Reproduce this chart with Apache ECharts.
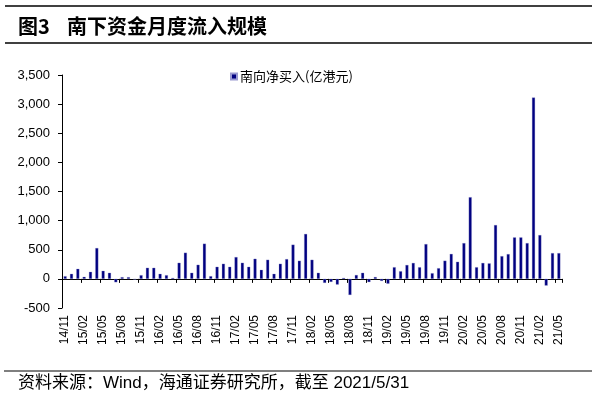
<!DOCTYPE html>
<html>
<head>
<meta charset="utf-8">
<script src="https://cdn.jsdelivr.net/npm/echarts@6/dist/echarts.min.js"></script>
<style>html,body{margin:0;padding:0;background:#fff;}#c{width:600px;height:402px;}</style>
</head>
<body>
<div id="c"></div>
<script>
const categories = [
 '14/11','14/12',
 '15/01','15/02','15/03','15/04','15/05','15/06','15/07','15/08','15/09','15/10','15/11','15/12',
 '16/01','16/02','16/03','16/04','16/05','16/06','16/07','16/08','16/09','16/10','16/11','16/12',
 '17/01','17/02','17/03','17/04','17/05','17/06','17/07','17/08','17/09','17/10','17/11','17/12',
 '18/01','18/02','18/03','18/04','18/05','18/06','18/07','18/08','18/09','18/10','18/11','18/12',
 '19/01','19/02','19/03','19/04','19/05','19/06','19/07','19/08','19/09','19/10','19/11','19/12',
 '20/01','20/02','20/03','20/04','20/05','20/06','20/07','20/08','20/09','20/10','20/11','20/12',
 '21/01','21/02','21/03','21/04','21/05'
];
const netBuy = [
 45, 86,
 172, 35, 121, 529, 138, 104, -58, 29, 29, -10, 63, 190,
 190, 86, 63, 17, 276, 449, 104, 242, 604, 46, 207, 259,
 207, 374, 276, 207, 345, 155, 328, 86, 259, 339, 587, 311,
 771, 328, 104, -69, -52, -98, 17, -276, 66, 104, -55, 31,
 -35, -83, 200, 131, 238, 273, 200, 597, 97, 183, 312, 428,
 293, 614, 1402, 200, 273, 266, 924, 390, 425, 712, 712, 614,
 3113, 752, -115, 442, 442
];
const seriesName = '南向净买入(亿港元)';
const yTicks = { min: -500, max: 3500, interval: 500 };

const chart = echarts.init(document.getElementById('c'));
const font = "'Liberation Sans', Arial, 'Noto Sans CJK SC', sans-serif";
chart.setOption({
  animation: false,
  textStyle: { fontFamily: font },
  graphic: [
    { type: 'line', shape: { x1: 5, y1: 6, x2: 592, y2: 6 }, style: { stroke: '#000', lineWidth: 1.5 } },
    { type: 'line', shape: { x1: 5, y1: 43, x2: 592, y2: 43 }, style: { stroke: '#000', lineWidth: 1.5 } },
    { type: 'text', left: 18, top: 16, style: { text: '图3', font: "bold 20px 'Noto Sans CJK SC'", fill: '#000' } },
    { type: 'text', left: 67, top: 16, style: { text: '南下资金月度流入规模', font: "bold 20px 'Noto Sans CJK SC'", fill: '#000' } },
    { type: 'line', shape: { x1: 4, y1: 371, x2: 592, y2: 371 }, style: { stroke: '#000', lineWidth: 1.2 } },
    { type: 'text', left: 18, top: 375, style: { text: '资料来源：Wind，海通证券研究所，截至 2021/5/31', font: "17px 'Liberation Sans', 'Noto Sans CJK SC'", fill: '#000' } }
  ],
  legend: {
    data: [seriesName],
    left: 225, top: 65,
    icon: 'rect', itemWidth: 6, itemHeight: 6, itemGap: 4,
    textStyle: { fontSize: 13, color: '#000', fontFamily: "'Noto Sans CJK SC', sans-serif", padding: [0,0,0,-2] }
  },
  grid: { left: 62, right: 38, top: 75, bottom: 94, containLabel: false },
  xAxis: [
    {
      type: 'category', data: categories, boundaryGap: true,
      axisLine: { onZero: true, lineStyle: { color: '#000', width: 1 } },
      axisTick: { show: true, interval: 2, length: 4, inside: false, lineStyle: { color: '#000' } },
      axisLabel: { show: false },
      splitLine: { show: false }
    },
    {
      type: 'category', data: categories, boundaryGap: true, position: 'bottom',
      axisLine: { show: false, onZero: false },
      axisTick: { show: false },
      axisLabel: { show: true, interval: 2, rotate: 90, margin: 7, fontSize: 12, color: '#000', fontFamily: font },
      splitLine: { show: false }
    }
  ],
  yAxis: {
    type: 'value', min: yTicks.min, max: yTicks.max, interval: yTicks.interval,
    axisLine: { show: true, lineStyle: { color: '#000' } },
    axisTick: { show: true, length: 4, lineStyle: { color: '#000' } },
    axisLabel: { fontSize: 13, color: '#000', margin: 12,
      formatter: v => v.toLocaleString('en-US') },
    splitLine: { show: false }
  },
  series: [{
    name: seriesName, type: 'bar', xAxisIndex: 0, data: netBuy,
    barWidth: 3,
    itemStyle: { color: '#000080', borderColor: '#9a9ad0', borderWidth: 0.3 }
  }]
});
</script>
</body>
</html>
